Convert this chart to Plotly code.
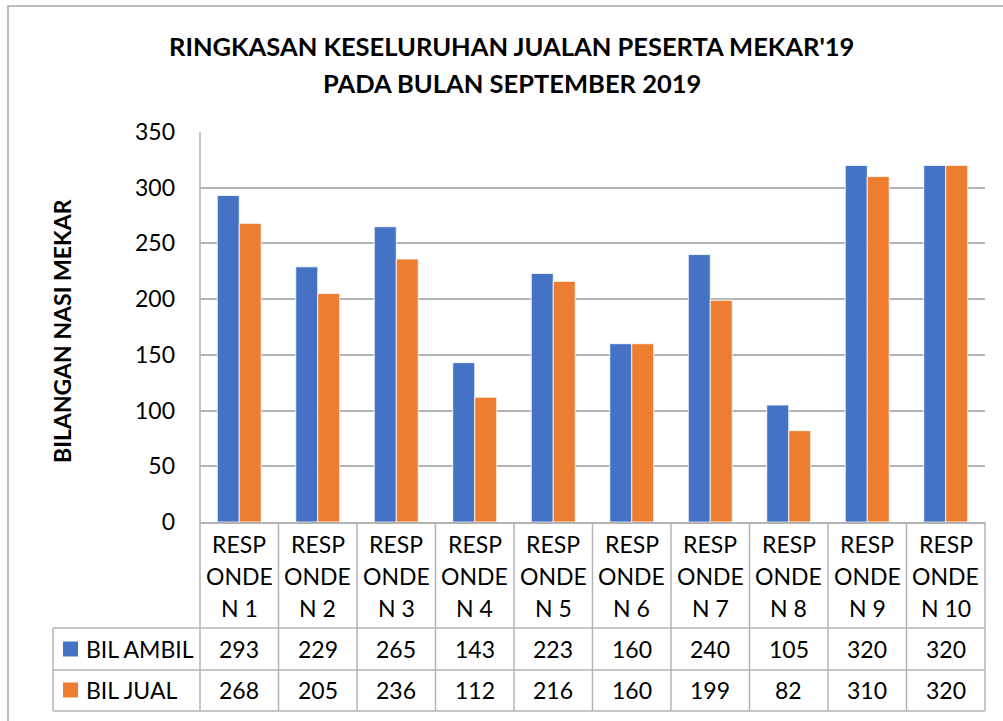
import plotly.graph_objects as go

# Sales summary data
categories = ["RESPONDEN 1", "RESPONDEN 2", "RESPONDEN 3", "RESPONDEN 4", "RESPONDEN 5",
              "RESPONDEN 6", "RESPONDEN 7", "RESPONDEN 8", "RESPONDEN 9", "RESPONDEN 10"]
series_names = ["BIL AMBIL", "BIL JUAL"]
bil_ambil = [293, 229, 265, 143, 223, 160, 240, 105, 320, 320]
bil_jual = [268, 205, 236, 112, 216, 160, 199, 82, 310, 320]
y_ticks = [0, 50, 100, 150, 200, 250, 300, 350]

W, H = 1003, 721
BLUE, ORANGE = "#4472C4", "#ED7D31"
GRID = "#b4b4b4"
FONT = "Lato"
TXT = 23


def px_x(p):
    return p / W


def px_y(p):
    return 1 - p / H


# layout of plot area and data table (pixels)
plot_left, plot_right = 200, 985
plot_top, plot_bottom = 132, 522
row_cat_bottom = 628
row1_bottom = 670
row2_bottom = 711
legend_left = 53

fig = go.Figure()
values = [bil_ambil, bil_jual]
colors = [BLUE, ORANGE]
for name, vals, col in zip(series_names, values, colors):
    fig.add_trace(go.Bar(
        x=categories, y=vals, name=name,
        marker=dict(color=col, line=dict(color="white", width=0.8)),
        showlegend=False,
    ))

shapes = []
annotations = []

# title
for txt, yc in [("RINGKASAN KESELURUHAN JUALAN PESERTA MEKAR'19", 46),
                 ("PADA BULAN SEPTEMBER 2019", 83)]:
    annotations.append(dict(
        text=txt, xref="paper", yref="paper", x=px_x(512), y=px_y(yc),
        xanchor="center", yanchor="middle", showarrow=False,
        font=dict(family=FONT, size=25.5, color="#000000", weight="bold"),
    ))

# y axis title
annotations.append(dict(
    text="BILANGAN NASI MEKAR", xref="paper", yref="paper",
    x=px_x(62), y=px_y(331), textangle=-90,
    xanchor="center", yanchor="middle", showarrow=False,
    font=dict(family=FONT, size=23, color="#000000", weight="bold"),
))

# data table: category header row (wrapped labels)
for cat in categories:
    num = cat.split(" ")[1]
    parts = [cat[0:4], cat[4:8], "N " + num]
    for part, yc in zip(parts, [544, 576, 608]):
        annotations.append(dict(
            text=part, xref="x", yref="paper", x=cat, y=px_y(yc),
            xanchor="center", yanchor="middle", showarrow=False,
            font=dict(family=FONT, size=TXT, color="#000000"),
        ))

# data table: value rows with legend keys
row_centers = [649, 690]
for name, vals, col, yc in zip(series_names, values, colors, row_centers):
    shapes.append(dict(
        type="rect", xref="paper", yref="paper",
        x0=px_x(63), x1=px_x(78), y0=px_y(yc - 7.5), y1=px_y(yc + 7.5),
        fillcolor=col, line=dict(width=0),
    ))
    annotations.append(dict(
        text=name, xref="paper", yref="paper", x=px_x(84), y=px_y(yc),
        xanchor="left", yanchor="middle", showarrow=False,
        font=dict(family=FONT, size=TXT, color="#000000"),
    ))
    for cat, v in zip(categories, vals):
        annotations.append(dict(
            text=str(v), xref="x", yref="paper", x=cat, y=px_y(yc),
            xanchor="center", yanchor="middle", showarrow=False,
            font=dict(family=FONT, size=TXT, color="#000000"),
        ))

# table grid lines
line_style = dict(color=GRID, width=1.5)
for i in range(1, len(categories)):
    shapes.append(dict(
        type="line", xref="x", yref="paper", x0=i - 0.5, x1=i - 0.5,
        y0=px_y(plot_bottom), y1=px_y(row2_bottom), line=line_style,
    ))
for xd in (0, 1):
    shapes.append(dict(
        type="line", xref="x domain", yref="paper", x0=xd, x1=xd,
        y0=px_y(plot_top if xd == 0 else plot_bottom), y1=px_y(row2_bottom),
        line=line_style,
    ))
shapes.append(dict(
    type="line", xref="paper", yref="paper", x0=px_x(legend_left), x1=px_x(legend_left),
    y0=px_y(row_cat_bottom), y1=px_y(row2_bottom), line=line_style,
))
for yy in (row_cat_bottom, row1_bottom, row2_bottom):
    shapes.append(dict(
        type="line", xref="paper", yref="paper", x0=px_x(legend_left), x1=px_x(plot_right),
        y0=px_y(yy), y1=px_y(yy), line=line_style,
    ))

# chart frame
shapes.append(dict(
    type="rect", xref="paper", yref="paper",
    x0=px_x(8), x1=px_x(W + 20), y0=px_y(H + 20), y1=px_y(6),
    line=dict(color="#a6a6a6", width=1.5), fillcolor="rgba(0,0,0,0)", layer="below",
))

fig.update_layout(
    width=W, height=H,
    margin=dict(l=0, r=0, t=0, b=0, autoexpand=False),
    paper_bgcolor="white", plot_bgcolor="white",
    barmode="group", bargap=0.44, bargroupgap=0,
    font=dict(family=FONT, color="#000000"),
    shapes=shapes, annotations=annotations,
    xaxis=dict(
        domain=[px_x(plot_left), px_x(plot_right)],
        type="category", categoryorder="array", categoryarray=categories,
        range=[-0.5, len(categories) - 0.5],
        showticklabels=False, showgrid=False, zeroline=False,
        showline=True, linecolor=GRID, linewidth=1.5, ticks="",
        automargin=False,
    ),
    yaxis=dict(
        domain=[px_y(plot_bottom), px_y(plot_top)],
        range=[0, 350], tickvals=y_ticks,
        showgrid=True, gridcolor=GRID, gridwidth=1.5,
        zeroline=False, showline=False, ticks="",
        ticklabelstandoff=24, automargin=False,
        tickfont=dict(family=FONT, size=23, color="#000000"),
    ),
)

fig.write_html("out.html")
